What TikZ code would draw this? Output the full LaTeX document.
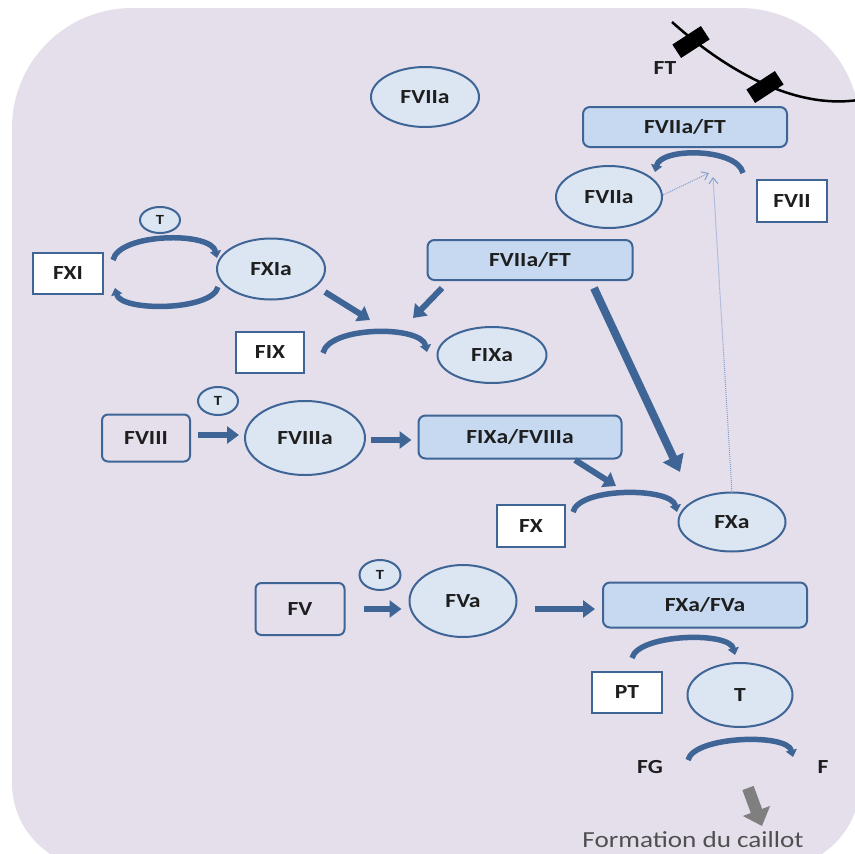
\documentclass[tikz,border=0pt]{standalone}
\usepackage{fontspec}
\newfontfamily\lblfont{Carlito}[FakeStretch=1.18]
\usetikzlibrary{shapes.geometric,arrows.meta}
\definecolor{bgc}{HTML}{E5DFEC}
\definecolor{bl}{HTML}{3F6596}
\definecolor{ellf}{HTML}{DCE6F2}
\definecolor{cboxf}{HTML}{C6D9F1}
\definecolor{txt}{HTML}{1E1E1E}
\definecolor{dotc}{HTML}{7F9FD0}
\definecolor{greyarr}{HTML}{7F7F7F}
\definecolor{captxt}{HTML}{505050}
\begin{document}
\begin{tikzpicture}[x=1pt,y=-1pt,
  lbl/.style={font=\lblfont\bfseries\fontsize{20}{24}\selectfont, text=txt},
  smalllbl/.style={font=\lblfont\bfseries\fontsize{14}{16}\selectfont, text=txt},
  ell/.style={ellipse, draw=bl, line width=2pt, fill=ellf, inner sep=0pt, lbl},
  tell/.style={ellipse, draw=bl, line width=2pt, fill=ellf, inner sep=0pt, smalllbl},
  wbox/.style={rectangle, draw=bl, line width=2pt, fill=white, inner sep=0pt, lbl},
  rbox/.style={rectangle, rounded corners=6pt, draw=bl, line width=2pt, inner sep=0pt, lbl},
  cbox/.style={rectangle, rounded corners=7pt, draw=bl, line width=2pt, fill=cboxf, inner sep=0pt, lbl},
  plain/.style={inner sep=0pt, lbl},
  membr/.style={rectangle, fill=black, minimum width=34pt, minimum height=16pt, inner sep=0pt},
  arr/.style={draw=bl, line width=6pt, -{Triangle[length=12pt,width=17pt]}},
  bigarr/.style={draw=bl, line width=8pt, -{Triangle[length=16pt,width=22pt]}},
  carr/.style={draw=bl, line width=5.5pt, -{Triangle[length=7pt,width=11pt]}},
  dotarr/.style={draw=dotc, line width=1pt, densely dotted, -{Straight Barb[length=6pt,width=9pt]}},
  grarr/.style={draw=greyarr, line width=12pt, -{Triangle[length=16pt,width=28pt]}}
]
\useasboundingbox (0,0) rectangle (855,854);
\clip (0,0) rectangle (855,854);
% background
\fill[bgc] (12,128) .. controls (12,61.7) and (65.7,8) .. (132,8) -- (740,8)
  .. controls (806.3,8) and (860,61.7) .. (860,128) -- (860,783)
  .. controls (860,830) and (822,868) .. (775,868) -- (97,868)
  .. controls (50,868) and (12,830) .. (12,783) -- cycle;

% membrane
\draw[black, line width=2.5pt] (672,22) .. controls (720,65) and (790,110) .. (858,100);
\node[membr, rotate=33] (m1) at (691,42) {};
\node[membr, rotate=33] (m2) at (765,87) {};
\node[plain] (ft) at (665,68) {FT};

% nodes
\node[ell, minimum width=108pt, minimum height=60pt] (fviiatop) at (425,97) {FVIIa};
\node[cbox, minimum width=204pt, minimum height=40pt] (ftbox) at (685,127) {FVIIa/FT};
\node[ell, minimum width=106pt, minimum height=62pt] (fviiar) at (609,197) {FVIIa};
\node[wbox, minimum width=70pt, minimum height=42pt] (fvii) at (792,201) {FVII};
\node[wbox, minimum width=70pt, minimum height=41pt] (fxi) at (68,273) {FXI};
\node[tell, minimum width=40pt, minimum height=26pt] (t1) at (160,220) {T};
\node[ell, minimum width=108pt, minimum height=61pt] (fxia) at (271,269) {FXIa};
\node[cbox, minimum width=205pt, minimum height=40pt] (fvft) at (530,260) {FVIIa/FT};
\node[wbox, minimum width=68pt, minimum height=41pt] (fix) at (270,352) {FIX};
\node[ell, minimum width=109pt, minimum height=56pt] (fixa) at (492,355) {FIXa};
\node[rbox, minimum width=88pt, minimum height=47pt] (fviii) at (146,438) {FVIII};
\node[tell, minimum width=40pt, minimum height=28pt] (t2) at (218,401) {T};
\node[ell, minimum width=120pt, minimum height=74pt] (fviiia) at (305,438) {FVIIIa};
\node[cbox, minimum width=203pt, minimum height=43pt] (fixfviiia) at (520,437) {FIXa/FVIIIa};
\node[wbox, minimum width=68pt, minimum height=42pt] (fx) at (531,526) {FX};
\node[ell, minimum width=107pt, minimum height=59pt] (fxa) at (732,522) {FXa};
\node[rbox, minimum width=89pt, minimum height=52pt] (fv) at (300,609) {FV};
\node[tell, minimum width=41pt, minimum height=30pt] (t3) at (380,575) {T};
\node[ell, minimum width=107pt, minimum height=72pt] (fva) at (463,601) {FVa};
\node[cbox, minimum width=204pt, minimum height=45pt] (fxafva) at (705,605) {FXa/FVa};
\node[wbox, minimum width=70pt, minimum height=41pt] (pt) at (627,692) {PT};
\node[ell, minimum width=105pt, minimum height=64pt] (tbig) at (740,695) {T};
\node[plain] (fg) at (650,767) {FG};
\node[plain] (f) at (823,767) {F};
\node[inner sep=0pt, font=\lblfont\fontsize{23}{26}\selectfont, text=captxt] (caillot) at (693,840) {Formation du caillot};

% coordinates for connector ends
\coordinate (a1s) at (325,292); \coordinate (a1e) at (370,320);
\coordinate (a2s) at (442,288); \coordinate (a2e) at (413,318);
\coordinate (a3s) at (575,460); \coordinate (a3e) at (616,486);
\coordinate (a4s) at (594,288); \coordinate (a4e) at (680,472);
\coordinate (d1s) at (663,195); \coordinate (d1e) at (709,173);
\coordinate (d2s) at (732,493); \coordinate (d2e) at (713,177);
\coordinate (c1s) at (743,173); \coordinate (c1e) at (655,172);
\coordinate (c2s) at (113,260); \coordinate (c2e) at (217,258);
\coordinate (c3s) at (218,287); \coordinate (c3e) at (115,288);
\coordinate (c4s) at (323,353); \coordinate (c4e) at (427,352);
\coordinate (c5s) at (573,512); \coordinate (c5e) at (677,512);
\coordinate (c6s) at (632,658); \coordinate (c6e) at (735,655);
\coordinate (c7s) at (688,760); \coordinate (c7e) at (793,757);
\coordinate (g1s) at (748,788); \coordinate (g1e) at (762,826);

% curved arrows
\draw[carr] (c1s) .. controls (737,148) and (661,147) .. (c1e);
\draw[carr] (c2s) .. controls (119,233) and (211,231) .. (c2e);
\draw[carr] (c3s) .. controls (212,311) and (121,312) .. (c3e);
\draw[carr] (c4s) .. controls (329,326) and (421,325) .. (c4e);
\draw[carr] (c5s) .. controls (579,487) and (671,487) .. (c5e);
\draw[carr] (c6s) .. controls (638,634) and (729,631) .. (c6e);
\draw[carr] (c7s) .. controls (694,736) and (787,733) .. (c7e);

% straight arrows
\draw[arr] (a1s) -- (a1e);
\draw[arr] (a2s) -- (a2e);
\draw[arr] (a3s) -- (a3e);
\draw[bigarr] (a4s) -- (a4e);
\draw[arr, shorten <=7pt, shorten >=5pt] ([yshift=3pt]fviii.east) -- ([yshift=3pt]fviii.east -| fviiia.west);
\draw[arr, shorten <=5pt, shorten >=6pt] ([yshift=-3pt]fixfviiia.west -| fviiia.east) -- ([yshift=-3pt]fixfviiia.west);
\draw[arr, shorten <=18pt, shorten >=7pt] (fv.east) -- (fv.east -| fva.west);
\draw[arr, shorten <=17pt, shorten >=7pt] (fv.east -| fva.east) -- (fv.east -| fxafva.west);

% dotted arrows
\draw[dotarr] (d1s) -- (d1e);
\draw[dotarr] (d2s) -- (d2e);

% grey arrow
\draw[grarr] (g1s) -- (g1e);
\end{tikzpicture}
\end{document}
